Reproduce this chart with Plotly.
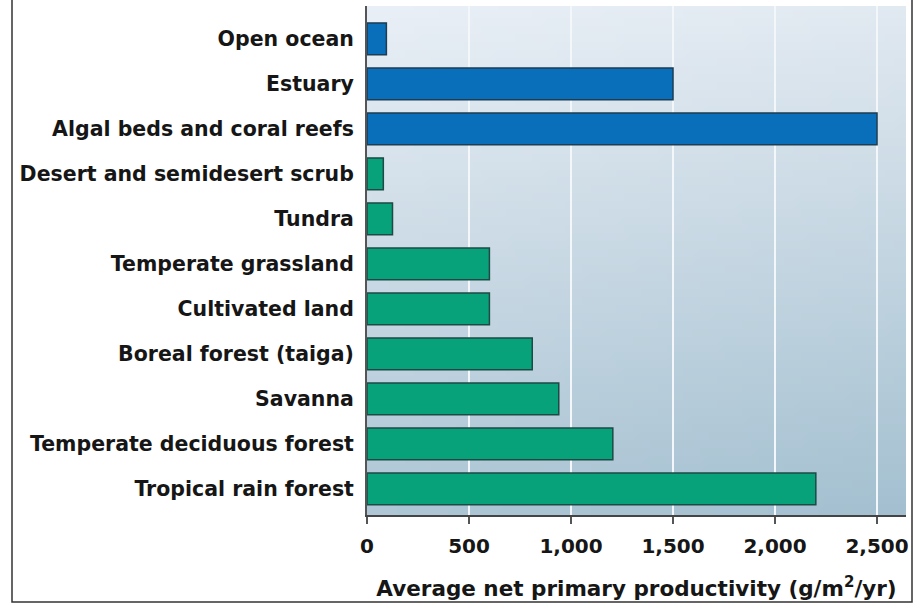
import base64
import struct
import zlib

import plotly.graph_objects as go

# ---------------- data ----------------
aquatic = ["Open ocean", "Estuary", "Algal beds and coral reefs"]
aquatic_values = [95, 1500, 2500]

terrestrial = [
    "Desert and semidesert scrub",
    "Tundra",
    "Temperate grassland",
    "Cultivated land",
    "Boreal forest (taiga)",
    "Savanna",
    "Temperate deciduous forest",
    "Tropical rain forest",
]
terrestrial_values = [80, 125, 600, 600, 810, 940, 1205, 2200]

x_ticks = [0, 500, 1000, 1500, 2000, 2500]
x_tick_labels = ["0", "500", "1,000", "1,500", "2,000", "2,500"]

categories = aquatic + terrestrial


# ---------------- background gradient (PNG data URI) ----------------
def gradient_png(w, h, tl, tr, bl, br):
    rows = []
    for j in range(h):
        fy = j / (h - 1)
        row = bytearray([0])
        for i in range(w):
            fx = i / (w - 1)
            for c in range(3):
                top = tl[c] + (tr[c] - tl[c]) * fx
                bot = bl[c] + (br[c] - bl[c]) * fx
                row.append(int(round(top + (bot - top) * fy)))
        rows.append(bytes(row))
    raw = b"".join(rows)

    def chunk(t, d):
        return (struct.pack(">I", len(d)) + t + d
                + struct.pack(">I", zlib.crc32(t + d) & 0xFFFFFFFF))

    png = (b"\x89PNG\r\n\x1a\n"
           + chunk(b"IHDR", struct.pack(">IIBBBBB", w, h, 8, 2, 0, 0, 0))
           + chunk(b"IDAT", zlib.compress(raw, 9))
           + chunk(b"IEND", b""))
    return "data:image/png;base64," + base64.b64encode(png).decode()


bg = gradient_png(64, 64, (233, 239, 246), (225, 233, 241),
                  (174, 198, 213), (164, 192, 208))

FONT = "DejaVu Sans, Liberation Sans, Arial, sans-serif"
TXT = "#161616"

fig = go.Figure()
fig.add_trace(go.Bar(
    y=aquatic, x=aquatic_values, orientation="h", width=0.71,
    marker=dict(color="#0a6fbb", line=dict(color="#1c3d52", width=1.5)),
    showlegend=False, hoverinfo="x+y",
))
fig.add_trace(go.Bar(
    y=terrestrial, x=terrestrial_values, orientation="h", width=0.71,
    marker=dict(color="#07a27a", line=dict(color="#1d4a45", width=1.5)),
    showlegend=False, hoverinfo="x+y",
))

# plot area in pixels: x 367..906, y 6..515 (figure 924 x 603)
L, R, T, B = 367, 924 - 906, 6, 603 - 515
pw, ph = 924 - L - R, 603 - T - B


def px_x(p):
    return (p - L) / pw


def px_y(p):
    return (603 - B - p) / ph


fig.update_layout(
    width=924, height=603,
    margin=dict(l=L, r=R, t=T, b=B, pad=0),
    paper_bgcolor="white",
    plot_bgcolor="rgba(0,0,0,0)",
    barmode="overlay",
    font=dict(family=FONT, size=21, color=TXT, weight="bold"),
    images=[dict(
        source=bg, xref="paper", yref="paper", x=0, y=1, sizex=1, sizey=1,
        xanchor="left", yanchor="top", sizing="stretch", layer="below",
    )],
    shapes=[dict(
        type="rect", xref="paper", yref="paper",
        x0=px_x(12), x1=px_x(912), y0=px_y(602), y1=px_y(-5),
        line=dict(color="#333333", width=1.5), fillcolor="rgba(0,0,0,0)",
        layer="above",
    )],
)

fig.update_xaxes(
    range=[0, 2642],
    tickvals=x_ticks, ticktext=x_tick_labels,
    showgrid=True, gridcolor="#f3f7fa", gridwidth=2,
    zeroline=False,
    showline=True, linecolor="#444444", linewidth=2,
    ticks="outside", ticklen=7, tickwidth=1.5, tickcolor="#555555",
    ticklabelstandoff=5,
    tickfont=dict(family=FONT, size=20, color=TXT, weight="bold"),
    title=dict(
        text="Average net primary productivity (g/m<sup>2</sup>/yr)",
        font=dict(family=FONT, size=21.5, color=TXT, weight="bold"),
        standoff=24,
    ),
)

fig.update_yaxes(
    type="category", categoryorder="array", categoryarray=categories,
    range=[10.58, -0.73],
    showgrid=False, zeroline=False,
    showline=True, linecolor="#555555", linewidth=2,
    ticks="", ticklabelstandoff=7,
    tickfont=dict(family=FONT, size=20.5, color=TXT, weight="bold"),
)

fig.write_html("out.html")
